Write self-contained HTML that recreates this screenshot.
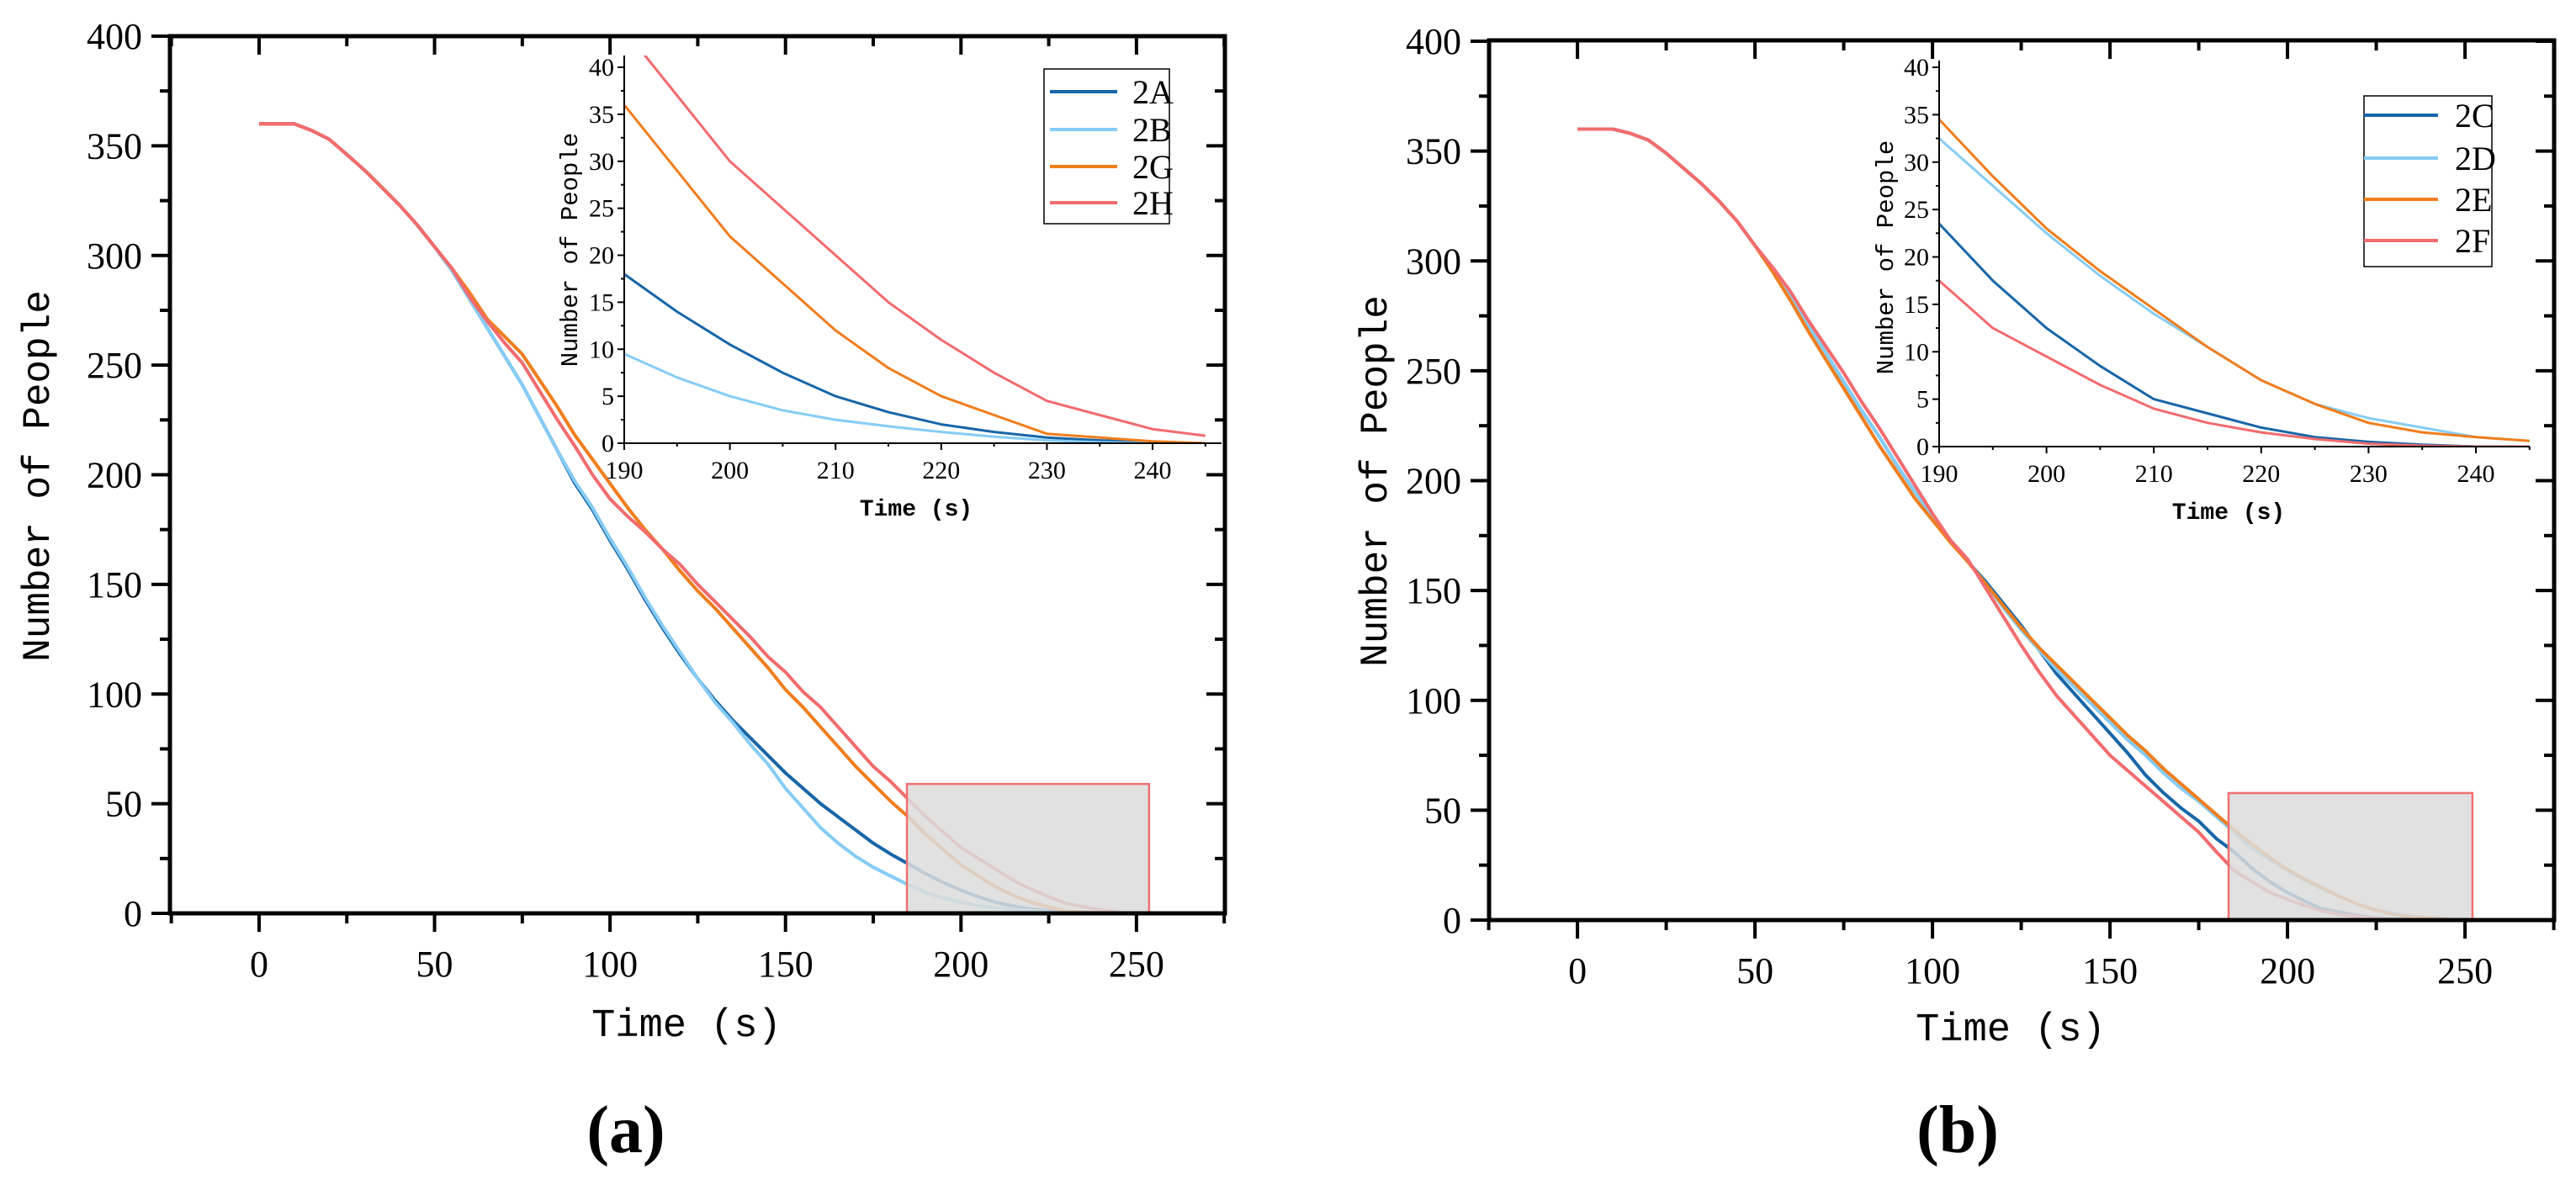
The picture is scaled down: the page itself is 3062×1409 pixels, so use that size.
<!DOCTYPE html>
<html><head><meta charset="utf-8"><style>
html,body{margin:0;padding:0;background:#fff}
svg{display:block}
text{font-family:"Liberation Serif","Noto Serif CJK SC",serif;fill:#000}
.mono{font-family:"Liberation Mono","Noto Sans CJK SC",monospace}
</style></head><body>
<svg id="chart" width="3062" height="1409" viewBox="0 0 3062 1409" xmlns="http://www.w3.org/2000/svg"></svg>
<script>
const times=[0,5,10,15,20,25,30,35,40,45,50,55,60,65,70,75,80,85,90,95,100,105,110,115,120,125,130,135,140,145,150,155,160,165,170,175,180,185,190,195,200,205,210,215,220,225,230,235,240,245];
const s2A=[360,360,360,357,353,346,339,331,323,314,304,293,280,267,254,241,226,211,196,184,170,157,143,130,118,107,97,88,80,72,64,57,50,44,38,32,27,22.5,18,14,10.5,7.5,5,3.3,2,1.2,0.6,0.3,0.1,0];
const s2B=[360,360,360,357,353,346,339,331,323,314,304,293,280,267,254,241,226,211,197,185,171,158,144,131,119,107,96,87,77,68,57,48,39,32,26,21,17,13,9.5,7,5,3.5,2.5,1.8,1.2,0.7,0.3,0.1,0,0];
const s2G=[360,360,360,357,353,346,339,331,323,314,304,294,283,271,263,255,243,231,218,207,196,185,175,166,156,147,139,130,121,112,102,94,85,76,67,59,51,44,36,29,22,17,12,8,5,3,1,0.6,0.2,0];
const s2H=[360,360,360,357,353,346,339,331,323,314,304,294,281,270,260,251,238,225,213,200,189,181,174,166,159,150,142,134,126,117,110,101,94,85,76,67,60,52,44,37,30,25,20,15,11,7.5,4.5,3,1.5,0.8];
const s2C=[360,360,360,358,355,349,342,335,327,318,307,296,284,271,258,245,232,220,207,195,184,173,163,154,144,134,123,112,103,94,85,76,66,58,51,45,37,31,23.5,17.5,12.5,8.5,5,3.5,2,1,0.5,0.2,0,0];
const s2D=[360,360,360,358,355,349,342,335,327,318,307,296,284,271,258,245,232,220,207,195,184,173,163,153,142,132,123,114,106,98,90,82,75,67,60,54,47,40,32.5,27.5,22.5,18,14,10.5,7,4.5,3,2,1,0.6];
const s2E=[360,360,360,358,355,349,342,335,327,318,307,295,282,268,255,242,229,216,204,192,182,172,163,153,143,133,124,116,108,100,92,84,77,69,62,55,48,41,34.5,28.5,23,18.5,14.5,10.5,7,4.5,2.5,1.5,1,0.6];
const s2F=[360,360,360,358,355,349,342,335,327,318,307,297,286,273,261,249,236,224,211,198,185,173,164,151,138,125,113,102,93,84,75,68,61,54,47,40,31,22.5,17.5,12.5,9.5,6.5,4,2.5,1.5,0.8,0.3,0.1,0,0];
const mainXTicks=[0,50,100,150,200,250];
const mainYTicks=[0,50,100,150,200,250,300,350,400];
const insetXTicks=[190,200,210,220,230,240];
const insetYTicks=[0,5,10,15,20,25,30,35,40];
const namesA=["2A","2B","2G","2H"];
const namesB=["2C","2D","2E","2F"];
const zoomBoxA=[184.6,253.6,59];
const zoomBoxB=[183.4,252.1,57.8];

const COLORS=["#1766a8","#86ccf5","#f07d1c","#f26b6e"];
const NS="http://www.w3.org/2000/svg";
const svg=document.getElementById('chart');
function mk(tag,attrs,parent){const e=document.createElementNS(NS,tag);for(const k in attrs)e.setAttribute(k,attrs[k]);(parent||svg).appendChild(e);return e;}
function txt(str,attrs,parent){const e=mk('text',attrs,parent);e.textContent=str;return e;}

function panel(P){
  const g=mk('g',{});
  
  
  const X=v=>P.L+(v-P.x0)/(P.x1-P.x0)*(P.R-P.L);
  const Y=v=>P.B-(v-0)/(400)*(P.B-P.T400);
  // series
  P.series.forEach((s,i)=>{
    const d=s.map((v,j)=>(j?'L':'M')+X(times[j]).toFixed(1)+' '+Y(v).toFixed(1)).join(' ');
    const p=mk('path',{d:d,fill:'none',stroke:COLORS[i],'stroke-width':4,'stroke-linejoin':'round'},g);
    
    
  });
  // zoom box
  const zb=P.box;
  const r=mk('rect',{x:X(zb[0]),y:Y(zb[2]),width:X(zb[1])-X(zb[0]),height:Y(0)-Y(zb[2]),fill:'#dcdcdc','fill-opacity':0.85,stroke:'#f07070','stroke-width':2.5},g);
  
  
  // frame
  const f=mk('rect',{x:P.L,y:P.T,width:P.R-P.L,height:P.B-P.T,fill:'none',stroke:'#000','stroke-width':5},g);
  
  
  // ticks
  for(let v=-25;v<=275;v+=25){
    const x=X(v); const major=v%50===0; const len=major?22:12;
    if(x<P.L-1||x>P.R+1) continue;
    mk('line',{x1:x,y1:P.B,x2:x,y2:P.B+len,stroke:'#000','stroke-width':4},g);
    mk('line',{x1:x,y1:P.T,x2:x,y2:P.T+len,stroke:'#000','stroke-width':4},g);
  }
  for(let v=0;v<=400;v+=25){
    const y=Y(v); const major=v%50===0; const len=major?22:12;
    mk('line',{x1:P.L,y1:y,x2:P.L-len,y2:y,stroke:'#000','stroke-width':4},g);
    mk('line',{x1:P.R,y1:y,x2:P.R-len,y2:y,stroke:'#000','stroke-width':4},g);
  }
  mainXTicks.forEach(v=>{const t=txt(String(v),{x:X(v),y:P.B+75,'font-size':44,'text-anchor':'middle'},g);
    });
  mainYTicks.forEach(v=>{const t=txt(String(v),{x:P.L-33,y:Y(v)+15,'font-size':44,'text-anchor':'end'},g);
    });
  const xt=txt('Time (s)',{x:P.xtX,y:P.xtY,'font-size':47,'text-anchor':'middle',class:'mono'},g);
  
  const yt=txt('Number of People',{x:0,y:0,'font-size':46,'text-anchor':'middle',class:'mono',transform:`translate(${P.ytX},${P.ytY}) rotate(-90)`},g);
  
  const pl=txt(P.label,{x:P.labX,y:1370,'font-size':80,'text-anchor':'middle','font-weight':'bold'},g);
  

  // inset
  const I=P.inset;
  const ig=mk('g',{},g);
  
  
  const IX=v=>I.L+(v-190)/50*(I.x240-I.L);
  const IY=v=>I.B-v/40*(I.B-I.y40);
  const cid='clip'+P.id;
  const cp=mk('clipPath',{id:cid},ig);
  mk('rect',{x:I.L,y:I.T,width:I.R-I.L,height:I.B-I.T},cp);
  const sg=mk('g',{'clip-path':`url(#${cid})`},ig);
  P.series.forEach((s,i)=>{
    const d=s.map((v,j)=>(j?'L':'M')+IX(times[j]).toFixed(1)+' '+IY(v).toFixed(1)).join(' ');
    const p=mk('path',{d:d,fill:'none',stroke:COLORS[i],'stroke-width':3,'stroke-linejoin':'round'},sg);
    
    
  });
  mk('line',{x1:I.L,y1:I.T,x2:I.L,y2:I.B,stroke:'#000','stroke-width':2},ig);
  mk('line',{x1:I.L,y1:I.B,x2:I.R,y2:I.B,stroke:'#000','stroke-width':2},ig);
  for(let v=190;v<=I.xmax;v+=5){const x=IX(v);const len=(v%10===0)?8:4;
    mk('line',{x1:x,y1:I.B,x2:x,y2:I.B+len,stroke:'#000','stroke-width':2},ig);}
  for(let v=0;v<=40;v+=2.5){const y=IY(v);const len=(v%5===0)?8:4;
    mk('line',{x1:I.L,y1:y,x2:I.L-len,y2:y,stroke:'#000','stroke-width':2},ig);}
  insetXTicks.forEach(v=>{const t=txt(String(v),{x:IX(v),y:I.B+42,'font-size':30,'text-anchor':'middle'},ig);
    });
  insetYTicks.forEach(v=>{const t=txt(String(v),{x:I.L-12,y:IY(v)+10,'font-size':30,'text-anchor':'end'},ig);
    });
  const ixt=txt('Time (s)',{x:I.xtX,y:I.B+86,'font-size':28,'text-anchor':'middle',class:'mono','font-weight':'bold'},ig);
  
  const iyt=txt('Number of People',{x:0,y:0,'font-size':29,'text-anchor':'middle',class:'mono',transform:`translate(${I.ytX},${I.ytY}) rotate(-90)`},ig);
  

  // legend
  const Lg=P.legend;
  const lg=mk('g',{},g);
  
  
  mk('rect',{x:Lg.x,y:Lg.y,width:Lg.w,height:Lg.h,fill:'#fff',stroke:'#000','stroke-width':1.5},lg);
  P.names.forEach((n,i)=>{
    const e=mk('g',{},lg);
    
    
    const y=Lg.rows[i];
    mk('line',{x1:Lg.lx1,y1:y,x2:Lg.lx2,y2:y,stroke:COLORS[i],'stroke-width':4},e);
    txt(n,{x:Lg.tx,y:y+14,'font-size':40},e);
  });
}

panel({id:'a',L:202,R:1456,T:43,B:1086,T400:43,x0:-25.4,x1:275.2,series:[s2A,s2B,s2G,s2H],names:namesA,box:zoomBoxA,
  xtX:816,xtY:1232,ytX:58,ytY:566,label:'(a)',labX:744,
  inset:{L:742,R:1452,T:66,B:527,x240:1370,y40:80,xmax:245,xtX:1089,ytX:686,ytY:297},
  legend:{x:1241,y:82,w:149,h:184,rows:[109,154,198,241],lx1:1248,lx2:1328,tx:1346}});
panel({id:'b',L:1770,R:3036,T:48,B:1094,T400:49,x0:-24.9,x1:275.1,series:[s2C,s2D,s2E,s2F],names:namesB,box:zoomBoxB,
  xtX:2390,xtY:1237,ytX:1648,ytY:572,label:'(b)',labX:2327,
  inset:{L:2305,R:3007,T:72,B:531,x240:2943,y40:80,xmax:245,xtX:2649,ytX:2250,ytY:306},
  legend:{x:2810,y:114,w:152,h:203,rows:[137,188,237,286],lx1:2810,lx2:2898,tx:2918}});
</script>
</body></html>
